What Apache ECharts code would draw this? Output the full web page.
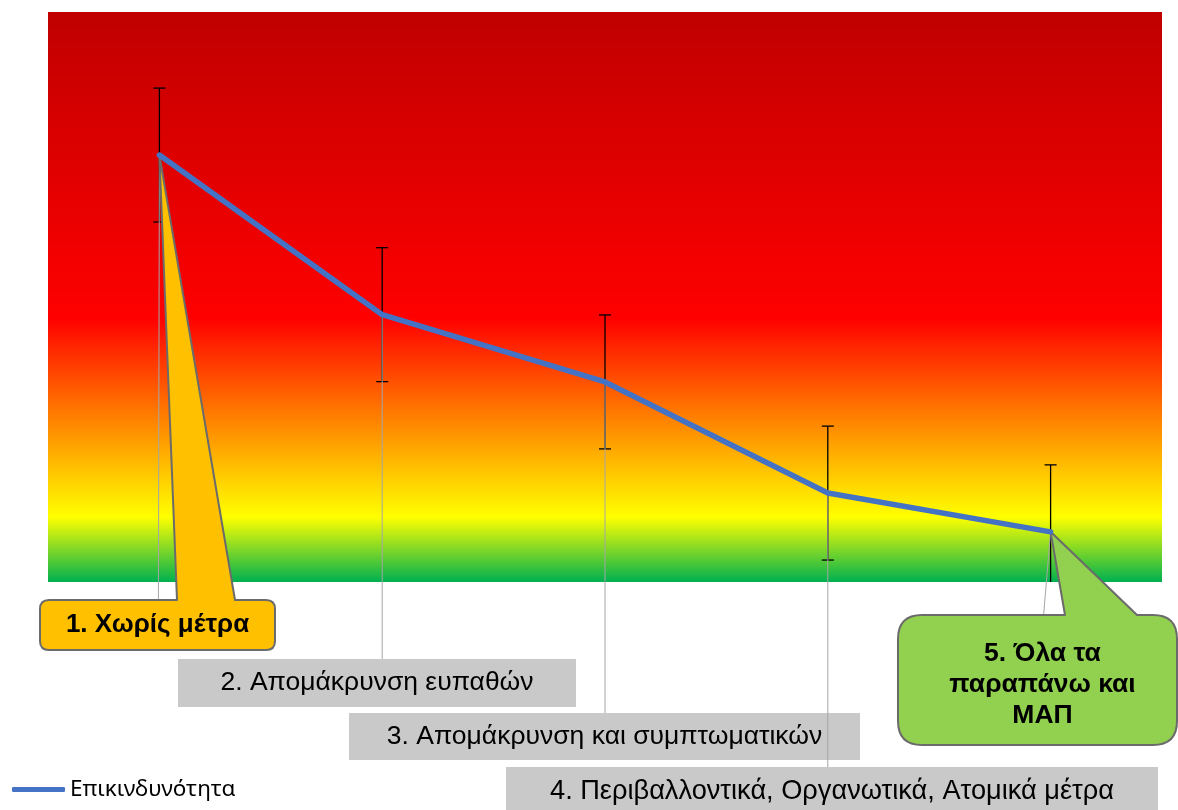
<!DOCTYPE html>
<html>
<head>
<meta charset="utf-8">
<script src="https://cdn.jsdelivr.net/npm/echarts@6/dist/echarts.min.js"></script>
<style>
html,body{margin:0;padding:0;background:#fff;}
#chart{width:1178px;height:810px;}
</style>
</head>
<body>
<div id="chart"></div>
<script>
// ---- data ----
const categories = [
  '1. Χωρίς μέτρα',
  '2. Απομάκρυνση ευπαθών',
  '3. Απομάκρυνση και συμπτωματικών',
  '4. Περιβαλλοντικά, Οργανωτικά, Ατομικά μέτρα',
  '5. Όλα τα παραπάνω και ΜΑΠ'
];
const riskValues = [74.9, 46.9, 35.1, 15.6, 8.8];
const riskError = [11.75, 11.75, 11.75, 11.75, 11.75];
const seriesName = 'Επικινδυνότητα';
const yMin = 0, yMax = 100;

// ---- layout of the label boxes (pixels) ----
const labelLayout = [
  {kind:'callout', x:40, y:600, w:235, h:50, r:9, fill:'#FFC000', wedge:[177,235], leaderDx:-1, font:26, bold:true},
  {kind:'box', x:178, y:659, w:398, h:48, fill:'#C9C9C9', leaderDx:0, font:26.5},
  {kind:'box', x:349, y:713, w:511, h:47, fill:'#C9C9C9', leaderDx:0, font:26.5},
  {kind:'box', x:506, y:767, w:652, h:50, fill:'#C9C9C9', leaderDx:0, font:27.2},
  {kind:'callout', x:898, y:615, w:279, h:130, r:24, fill:'#92D050', wedge:[1065,1137], leaderDx:-7, font:26.5, bold:true, lineWords:[3,2,1], lineHeight:31, textDx:5, textDy:5}
];

const chart = echarts.init(document.getElementById('chart'));

function calloutPath(L, tip){
  const x=L.x, y=L.y, w=L.w, h=L.h, r=L.r;
  return 'M'+(x+r)+' '+y+
    ' L'+L.wedge[0]+' '+y+
    ' L'+tip[0]+' '+tip[1]+
    ' L'+L.wedge[1]+' '+y+
    ' L'+(x+w-r)+' '+y+
    ' Q'+(x+w)+' '+y+' '+(x+w)+' '+(y+r)+
    ' L'+(x+w)+' '+(y+h-r)+
    ' Q'+(x+w)+' '+(y+h)+' '+(x+w-r)+' '+(y+h)+
    ' L'+(x+r)+' '+(y+h)+
    ' Q'+x+' '+(y+h)+' '+x+' '+(y+h-r)+
    ' L'+x+' '+(y+r)+
    ' Q'+x+' '+y+' '+(x+r)+' '+y+' Z';
}

function splitLines(text, counts){
  if (!counts) return text;
  const words = text.split(' ');
  const out = []; let k = 0;
  counts.forEach(c => { out.push(words.slice(k, k+c).join(' ')); k += c; });
  return out.join('\n');
}

const option = {
  animation:false,
  grid:{left:48, top:12, width:1114, height:570, show:true, borderWidth:0,
    backgroundColor: new echarts.graphic.LinearGradient(0,0,0,1,[
      {offset:0, color:'#C00000'},
      {offset:0.537, color:'#FF0000'},
      {offset:0.886, color:'#FFFF00'},
      {offset:1, color:'#00B050'}
    ])},
  xAxis:{type:'category', data:categories, show:false, boundaryGap:true},
  yAxis:{type:'value', min:yMin, max:yMax, show:false},
  legend:{data:[seriesName], left:12, top:778, padding:0, icon:'roundRect', itemWidth:53, itemHeight:5,
    textStyle:{fontFamily:'Noto Sans', fontSize:22.5, color:'#000'}},
  series:[
    {
      type:'custom', name:'errors', z:2, clip:true,
      data: riskValues.map((v,i)=>[i, v, riskError[i]]),
      renderItem:function(params, api){
        const xi = api.value(0), v = api.value(1), e = api.value(2);
        const hi = Math.min(v+e, yMax), lo = Math.max(v-e, yMin);
        const top = api.coord([xi, hi]);
        const bot = api.coord([xi, lo]);
        const st = {stroke:'#000', lineWidth:1.3};
        const ch = [{type:'line', shape:{x1:top[0], y1:top[1], x2:bot[0], y2:bot[1]}, style:st}];
        if (v+e <= yMax) ch.push({type:'line', shape:{x1:top[0]-6, y1:top[1], x2:top[0]+6, y2:top[1]}, style:st});
        if (v-e >= yMin) ch.push({type:'line', shape:{x1:bot[0]-6, y1:bot[1], x2:bot[0]+6, y2:bot[1]}, style:st});
        return {type:'group', children:ch};
      }
    },
    {
      type:'custom', name:'labels', z:3, clip:false,
      data: riskValues.map((v,i)=>[i, v]),
      renderItem:function(params, api){
        const i = params.dataIndex;
        const L = labelLayout[i];
        const tip = api.coord([api.value(0), api.value(1)]);
        const ch = [];
        ch.push({type:'line', shape:{x1:tip[0], y1:tip[1], x2:tip[0]+L.leaderDx, y2:L.y},
          style:{stroke:'#A6A6A6', lineWidth:1}});
        const textStyle = {
          text: splitLines(categories[i], L.lineWords),
          fontFamily:'Liberation Sans, Arial, sans-serif',
          fontSize:L.font,
          fontWeight: L.bold ? 'bold' : 'normal',
          fill:'#000',
          align:'center', verticalAlign:'middle',
          x: L.x + L.w/2 + (L.textDx||0),
          y: L.y + L.h/2 + (L.textDy||0)
        };
        if (L.lineHeight) textStyle.lineHeight = L.lineHeight;
        if (L.kind === 'callout'){
          ch.push({type:'path', shape:{pathData: calloutPath(L, tip)},
            style:{fill:L.fill, stroke:'#6B6B6B', lineWidth:2, lineJoin:'round'}});
        } else {
          ch.push({type:'rect', shape:{x:L.x, y:L.y, width:L.w, height:L.h},
            style:{fill:L.fill}});
        }
        ch.push({type:'text', style:textStyle});
        return {type:'group', children:ch};
      }
    },
    {
      type:'line', name:seriesName, z:5,
      data: riskValues,
      showSymbol:false, symbol:'none',
      lineStyle:{color:'#4472C4', width:5.5, cap:'round', join:'round'},
      itemStyle:{color:'#4472C4'}
    }
  ]
};
chart.setOption(option);
</script>
</body>
</html>
